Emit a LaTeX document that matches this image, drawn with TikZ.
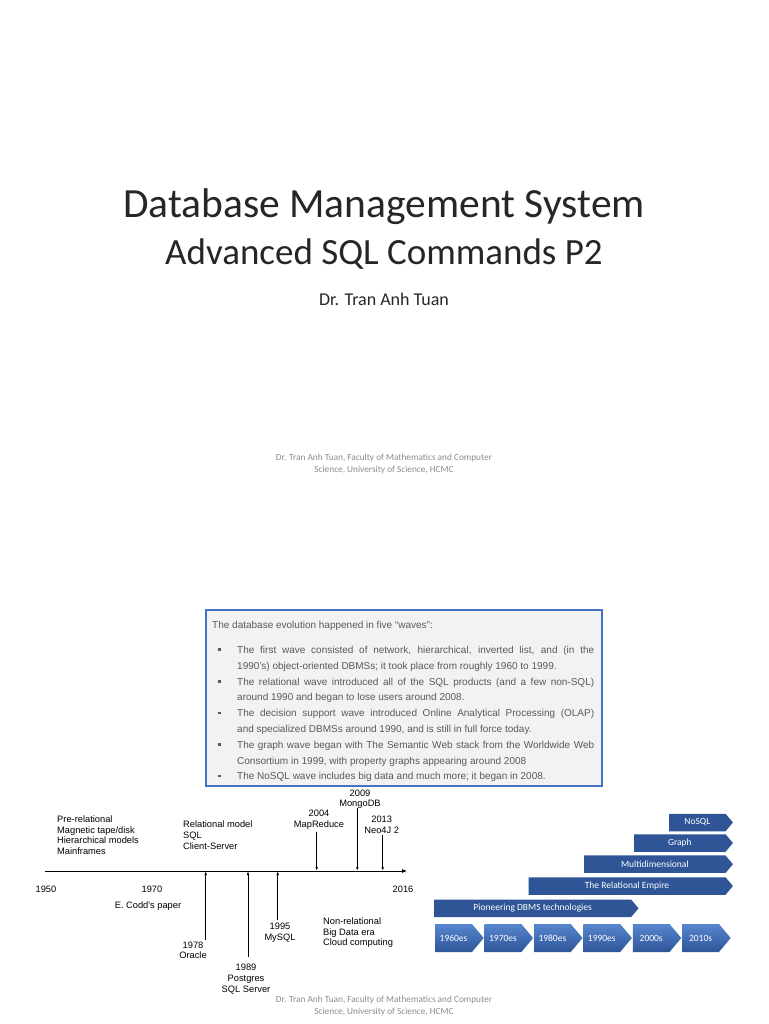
\documentclass[tikz,border=0pt]{standalone}
\usepackage{fontspec}
\setmainfont{Carlito}
\newfontfamily\arialfont{Liberation Sans}
\usetikzlibrary{arrows.meta,positioning,shapes.symbols}
\definecolor{TitleInk}{HTML}{262626}
\definecolor{FootGray}{HTML}{8C8C8C}
\definecolor{BoxBlue}{HTML}{4472C4}
\definecolor{BoxFill}{HTML}{F2F2F2}
\definecolor{BoxInk}{HTML}{595959}
\definecolor{WaveBlue}{HTML}{2F5597}
\definecolor{WaveLight}{HTML}{5686CF}
\newcommand{\wavebullet}{\par\leftskip=25pt\noindent\llap{\raisebox{2.4pt}{\rule{2.6pt}{2.6pt}}\hspace{16.5pt}}}
\tikzset{
  titletext/.style={font=\fontsize{41.5}{49}\selectfont,text=TitleInk,inner sep=0pt,anchor=base},
  subtitletext/.style={font=\fontsize{37}{44}\selectfont,text=TitleInk,inner sep=0pt,anchor=base},
  authortext/.style={font=\fontsize{18}{22}\selectfont,text=TitleInk,inner sep=0pt,anchor=base},
  foottext/.style={font=\fontsize{9.3}{12}\selectfont,text=FootGray,inner sep=0pt,align=center,anchor=north},
  wavebox/.style={draw=BoxBlue,line width=1.5pt,fill=BoxFill,minimum width=396pt,minimum height=176pt,inner sep=0pt},
  wavetext/.style={font=\arialfont\fontsize{10}{15.8}\selectfont,text=BoxInk,text width=382pt,align=justify,inner sep=0pt,anchor=north west},
  tltext/.style={font=\arialfont\fontsize{9.3}{10.7}\selectfont,inner sep=0pt},
  axis/.style={-{Latex[length=5pt,width=4pt]},line width=0.8pt},
  tick/.style={-{Latex[length=4pt,width=2.6pt]},line width=0.8pt},
  era/.style={shape=signal,signal to=east,signal from=nowhere,signal pointer angle=100,fill=WaveBlue,
              minimum height=17.5pt,inner sep=0pt,text=white,font=\fontsize{9.5}{11}\selectfont,anchor=west},
  decade/.style={shape=signal,signal to=east,signal from=nowhere,signal pointer angle=100,
              top color=WaveLight,bottom color=WaveBlue,draw=none,minimum height=28pt,minimum width=48.5pt,
              inner sep=0pt,text=white,font=\fontsize{9.5}{11}\selectfont,anchor=west}
}
\begin{document}
\begin{tikzpicture}[x=1pt,y=-1pt]
  \useasboundingbox[fill=white] (0,0) rectangle (768,1024);

  % title slide
  \node[titletext] (title) at (384,218) {Database Management System};
  \node[subtitletext] (subtitle) at (384,264) {Advanced SQL Commands P2};
  \node[authortext] (author) at (384,305) {Dr. Tran Anh Tuan};
  \node[foottext] (foot1) at (384,453.5) {Dr. Tran Anh Tuan, Faculty of Mathematics and Computer\\Science, University of Science, HCMC};

  % the five waves
  \node[wavebox] (wavebox) at (404,698) {};
  \node[wavetext] (wavestext) at (212,621) {\parskip=0pt
    The database evolution happened in five “waves”:\par\vspace{9.2pt}
    \wavebullet The first wave consisted of network, hierarchical, inverted list, and (in the\linebreak
      1990’s) object-oriented DBMSs; it took place from roughly 1960 to 1999.
    \wavebullet The relational wave introduced all of the SQL products (and a few non-SQL)\linebreak
      around 1990 and began to lose users around 2008.
    \wavebullet The decision support wave introduced Online Analytical Processing (OLAP)\linebreak
      and specialized DBMSs around 1990, and is still in full force today.
    \wavebullet The graph wave began with The Semantic Web stack from the Worldwide Web\linebreak
      Consortium in 1999, with property graphs appearing around 2008
    \wavebullet The NoSQL wave includes big data and much more; it began in 2008.\par};

  % timeline
  \coordinate (axstart) at (45,871);
  \coordinate (axend) at (407,871);
  \draw[axis] (axstart) -- (axend);
  \node[tltext,anchor=base] (y1950) at (46,892.5) {1950};
  \node[tltext,anchor=base] (y1970) at (152,892.5) {1970};
  \node[tltext,anchor=base] (y2016) at (403,892.5) {2016};
  \node[tltext,anchor=base] (codd) at (148,908.5) {E. Codd's paper};
  \node[tltext,align=left,anchor=north west] (prerel) at (57,815.5) {Pre-relational\\Magnetic tape/disk\\Hierarchical models\\Mainframes};
  \node[tltext,align=left,anchor=north west] (relmodel) at (183,821) {Relational model\\SQL\\Client-Server};
  \node[tltext,align=left,anchor=north west] (nonrel) at (323,917.5) {Non-relational\\Big Data era\\Cloud computing};
  \node[tltext,align=center,anchor=north] (oracle) at (193,941.5) {1978\\Oracle};
  \node[tltext,align=center,anchor=north] (postgres) at (246,964) {1989\\Postgres\\SQL Server};
  \node[tltext,align=center,anchor=north] (mysql) at (280,923) {1995\\MySQL};
  \node[tltext,align=center,anchor=north] (mapreduce) at (319,810) {2004\\MapReduce};
  \node[tltext,align=center,anchor=north] (mongodb) at (360,789.5) {2009\\MongoDB};
  \node[tltext,align=center,anchor=north] (neo4j) at (381.7,816) {2013\\Neo4J 2};
  \foreach \nm/\x/\y in {oracle/205.7/940,postgres/248/956.7,mysql/277.7/920,
                         mapreduce/316.7/831.7,mongodb/357.3/808.3,neo4j/382.7/835}{
    \coordinate (\nm-foot) at (\x,\y);
    \coordinate (\nm-hit) at (\x,871);
    \draw[tick] (\nm-foot) -- (\nm-hit);
  }

  % eras chart
  \node[era,minimum width=204.3pt] (pioneer) at (434,908.3) {Pioneering DBMS technologies};
  \node[era,minimum width=204.4pt] (relempire) at (528.3,886) {The Relational Empire};
  \node[era,minimum width=148.7pt] (multidim) at (584,864.2) {Multidimensional};
  \node[era,minimum width=98.7pt] (graph) at (634,843) {Graph};
  \node[era,minimum width=63.7pt] (nosql) at (669,822.5) {NoSQL};
  \foreach \lab [count=\i] in {1960es,1970es,1980es,1990es,2000s,2010s}
    \node[decade] (dec\i) at ({435+49.4*(\i-1)},938) {\lab};

  \node[foottext] (foot2) at (384,995.5) {Dr. Tran Anh Tuan, Faculty of Mathematics and Computer\\Science, University of Science, HCMC};
\end{tikzpicture}
\end{document}
